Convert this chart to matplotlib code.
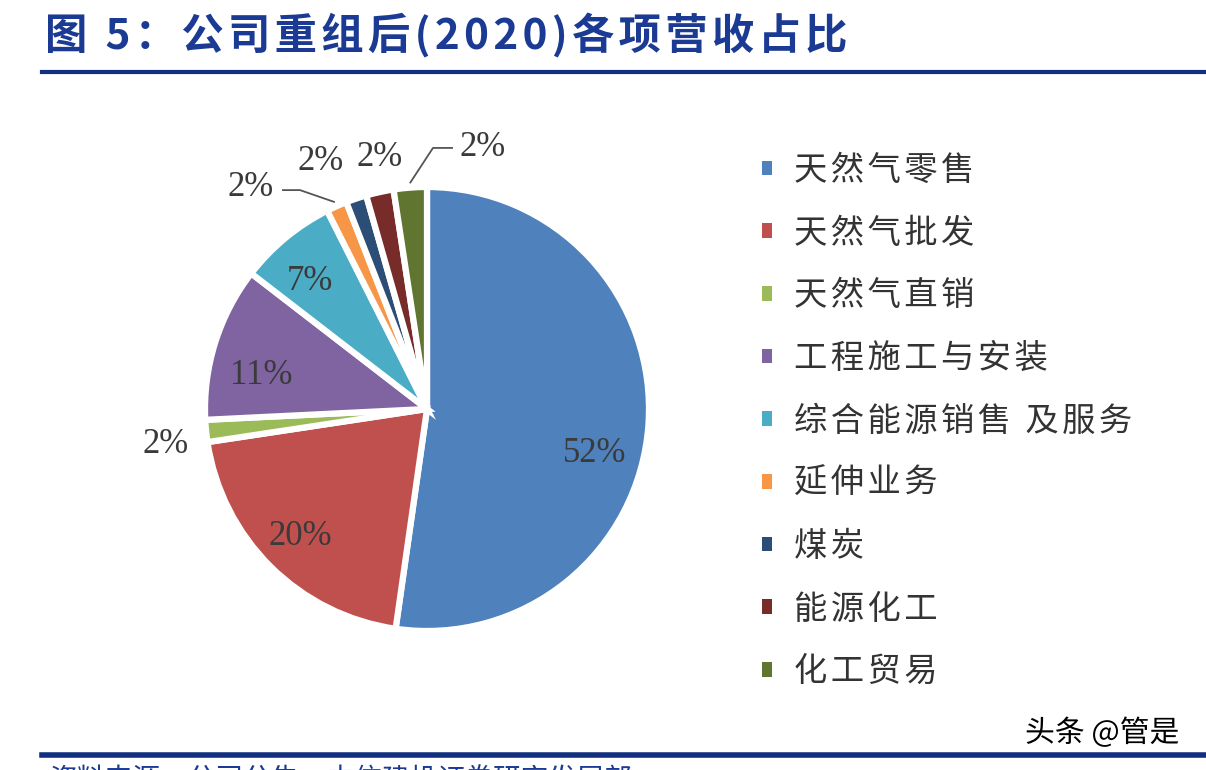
import numpy as np
import matplotlib
matplotlib.use("Agg")
import matplotlib.pyplot as plt
from matplotlib.patches import Patch
from matplotlib.lines import Line2D
import matplotlib.patheffects as pe

# ---- data ----
title = "图 5：公司重组后(2020)各项营收占比"
categories = ["天然气零售", "天然气批发", "天然气直销", "工程施工与安装",
              "综合能源销售 及服务", "延伸业务", "煤炭", "能源化工", "化工贸易"]
values = [52.1, 20.3, 1.6, 11.2, 7.1, 1.5, 1.5, 2.0, 2.4]
colors = ["#4F81BD", "#C0504D", "#9BBB59", "#8064A2", "#4BACC6",
          "#F79646", "#2C4D75", "#772C2A", "#5F7530"]
source = "资料来源：公司公告，中信建投证券研究发展部"
watermark = "头条 @管是"

CJK = ["Noto Sans CJK SC", "DejaVu Sans"]
SERIF = ["Liberation Serif", "DejaVu Serif"]
W, H = 1206, 770
navy = "#1B3A93"
HAIR = "\u200a"


def spaced(s, sep=HAIR):
    return sep.join(list(s))


fig = plt.figure(figsize=(W / 100, H / 100), dpi=100)
fig.patch.set_facecolor("white")


def fx(px):
    return px / W


def fy(py):
    return 1 - py / H


# title + rules
fig.text(fx(45), fy(35), spaced(title), fontsize=30.5, fontweight="bold", color=navy,
         ha="left", va="center", family=CJK)
fig.add_artist(Line2D([fx(42), 1.0], [fy(72), fy(72)], lw=3, color="#12307F"))
fig.add_artist(Line2D([fx(42), 1.0], [fy(755), fy(755)], lw=4, color="#12307F"))
fig.text(fx(50), fy(780), source, fontsize=20, color=navy, ha="left",
         va="center", family=CJK)
fig.text(fx(1025), fy(733), watermark, fontsize=21.5, color="black", ha="left",
         va="center", family=CJK,
         path_effects=[pe.withStroke(linewidth=3, foreground="white")])

# pie
cx, cy, R = 427, 409, 222
lim = 1.4
side = 2 * lim * R
ax = fig.add_axes([fx(cx - side / 2), fy(cy + side / 2), side / W, side / H])
wedges, _ = ax.pie(values, colors=colors, startangle=90, counterclock=False,
                   radius=1, wedgeprops=dict(edgecolor="white", linewidth=4.5))
ax.set_xlim(-lim, lim)
ax.set_ylim(-lim, lim)
ax.set_aspect("equal")
ax.axis("off")

total = sum(values)
labels = [f"{round(v / total * 100):.0f}%" for v in values]
txtcol = "#3A3A3A"

inside = {0: (0.78, -11), 1: (0.81, 0), 3: (0.76, 6), 4: (0.78, 3)}
for i, (r, dang) in inside.items():
    w = wedges[i]
    a = np.deg2rad((w.theta1 + w.theta2) / 2 + dang)
    ax.text(r * np.cos(a), r * np.sin(a), labels[i], fontsize=25, color=txtcol,
            ha="center", va="center", family=SERIF)

# outside labels (text positions in data units)
outside = {2: (-1.176, -0.162), 5: (-0.793, 1.0), 6: (-0.477, 1.113),
           7: (-0.212, 1.131), 8: (0.252, 1.176)}
for i, (tx, ty) in outside.items():
    ax.text(tx, ty, labels[i], fontsize=25, color=txtcol, ha="center",
            va="center", family=SERIF)


# leader lines
def edge_point(i, r=1.0):
    w = wedges[i]
    a = np.deg2rad((w.theta1 + w.theta2) / 2)
    return r * np.cos(a), r * np.sin(a)


ex, ey = edge_point(5, 1.02)
ax.plot([-0.653, -0.572, ex], [0.986, 0.986, ey], color="#555555", lw=1.3,
        solid_capstyle="butt")
ex, ey = edge_point(8, 1.02)
ax.plot([ex, 0.027, 0.117], [ey, 1.176, 1.176], color="#555555", lw=1.3,
        solid_capstyle="butt")

# legend
handles = [Patch(facecolor=c, edgecolor="none") for c in colors]
fig.legend(handles, [spaced(c) for c in categories], loc="upper left",
           bbox_to_anchor=(fx(762), fy(153)), frameon=False,
           prop=dict(family=CJK, size=24, weight="light"),
           labelcolor="#333333", handlelength=0.3, handleheight=0.3,
           handletextpad=0.65, labelspacing=0.83, borderpad=0,
           borderaxespad=0)

fig.savefig("out.png", dpi=100, facecolor="white")
